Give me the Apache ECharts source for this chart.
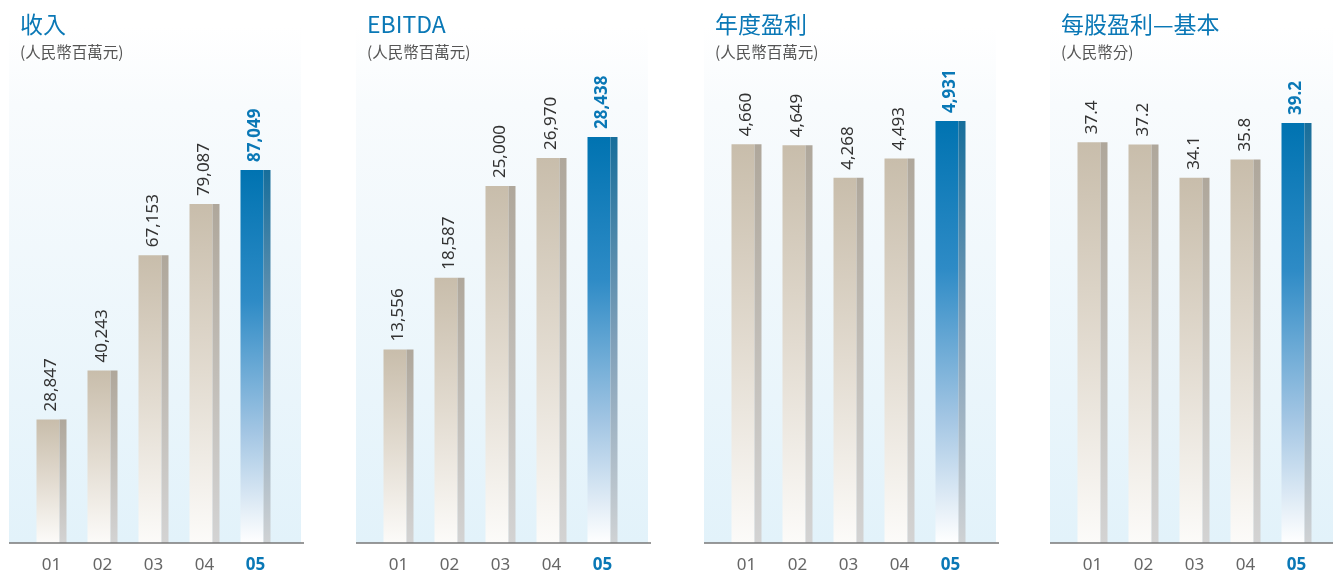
<!DOCTYPE html>
<html>
<head>
<meta charset="utf-8">
<title>財務摘要</title>
<script src="https://cdn.jsdelivr.net/npm/echarts@6/dist/echarts.min.js"></script>
<style>
  html, body { margin: 0; padding: 0; background: #fff; }
  #main { width: 1333px; height: 574px; }
</style>
</head>
<body>
<div id="main"></div>
<script>
// 年份
var categories = ['01', '02', '03', '04', '05'];
// 各项数据
var revenue = [28847, 40243, 67153, 79087, 87049];
var ebitda = [13556, 18587, 25000, 26970, 28438];
var profit = [4660, 4649, 4268, 4493, 4931];
var eps = [37.4, 37.2, 34.1, 35.8, 39.2];
var titles = ['收入', 'EBITDA', '年度盈利', '每股盈利—基本'];
var units = ['(人民幣百萬元)', '(人民幣百萬元)', '(人民幣百萬元)', '(人民幣分)'];
var decimals = [0, 0, 0, 1];
var axisMax = [110387, 33131, 5527, 44.15];

var panelData = [revenue, ebitda, profit, eps];
var panelLeft = [9, 356, 704, 1050];
var axisY = 543;
var blue = '#0a78b6';

function fmt(v, d) {
    var s = v.toFixed(d);
    var parts = s.split('.');
    parts[0] = parts[0].replace(/\B(?=(\d{3})+(?!\d))/g, ',');
    return parts.join('.');
}
function grad(stops) {
    return new echarts.graphic.LinearGradient(0, 0, 0, 1, stops.map(function (c, i) {
        return { offset: c[0], color: c[1] };
    }));
}
var greyFront = [[0, '#c8bdab'], [0.5, '#e2dbd0'], [1, '#fcfbf9']];
var greySide = [[0, '#afa79b'], [1, '#d3d3d3']];
var blueFront = [[0, '#0073b1'], [0.35, '#2e8bc6'], [0.7, '#a2c5e3'], [1, '#ffffff']];
var blueSide = [[0, '#176e9b'], [0.5, '#7f9fb8'], [1, '#cfd2d4']];

var myChart = echarts.init(document.getElementById('main'));
var option = {
    animation: false,
    title: [],
    grid: [],
    xAxis: [],
    yAxis: [],
    series: [],
    graphic: []
};

panelData.forEach(function (vals, p) {
    var x0 = panelLeft[p];
    var last = vals.length - 1;
    // 背景
    option.graphic.push({
        type: 'rect', z: 0, silent: true,
        shape: { x: x0, y: 27, width: 292, height: axisY - 27 },
        style: { fill: grad([[0, '#ffffff'], [0.15, '#f8fbfd'], [1, '#e2f2fa']]) }
    });
    // 底线
    option.graphic.push({
        type: 'line', z: 50, silent: true,
        shape: { x1: x0, y1: axisY, x2: x0 + 295, y2: axisY },
        style: { stroke: '#777', lineWidth: 1.5 }
    });
    option.title.push({
        text: titles[p],
        subtext: units[p],
        left: x0 + 11,
        top: 13,
        padding: 0,
        itemGap: 8,
        textStyle: { fontFamily: 'Noto Sans CJK TC', fontSize: 23, fontWeight: 'normal', color: blue },
        subtextStyle: { fontFamily: 'Noto Sans CJK TC', fontSize: 15.5, color: '#555' }
    });
    option.grid.push({ left: x0 + 17, width: 255, top: 70, bottom: 574 - axisY });
    option.xAxis.push({
        type: 'category',
        gridIndex: p,
        data: categories.map(function (c, i) {
            return i === last ? { value: c, textStyle: { color: blue, fontWeight: 'bold' } } : c;
        }),
        axisLine: { show: false },
        axisTick: { show: false },
        axisLabel: { color: '#666', fontSize: 17, fontFamily: 'Noto Sans', margin: 14 }
    });
    option.yAxis.push({
        type: 'value', gridIndex: p, min: 0, max: axisMax[p], show: false, splitLine: { show: false }
    });
    option.series.push({
        type: 'bar',
        xAxisIndex: p, yAxisIndex: p,
        barWidth: 23, barGap: '0%',
        z: 3,
        data: vals.map(function (v, i) {
            var hi = i === last;
            return {
                value: v,
                itemStyle: { color: grad(hi ? blueFront : greyFront) },
                label: hi ? { color: blue, fontWeight: 'bold' } : {}
            };
        }),
        label: {
            show: true, position: 'top', rotate: 90, distance: 8,
            align: 'left', verticalAlign: 'middle', offset: [0, 3],
            fontFamily: 'Noto Sans', fontSize: 17, color: '#333',
            formatter: function (o) { return fmt(o.value, decimals[p]); }
        }
    });
    option.series.push({
        type: 'bar',
        xAxisIndex: p, yAxisIndex: p,
        barWidth: 7, barGap: '0%',
        z: 3,
        data: vals.map(function (v, i) {
            return { value: v, itemStyle: { color: grad(i === last ? blueSide : greySide) } };
        })
    });
});

myChart.setOption(option);
window.onresize = function () {
    myChart.resize();
};
</script>
</body>
</html>
